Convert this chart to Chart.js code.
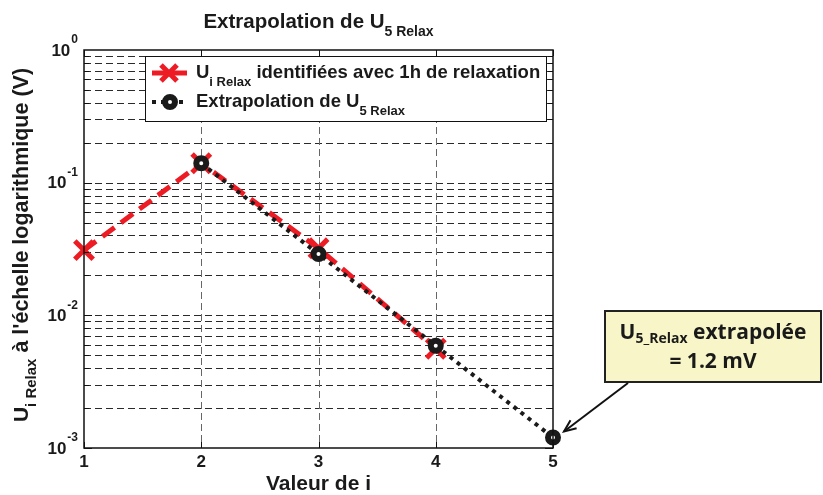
<!DOCTYPE html>
<html>
<head>
<meta charset="utf-8">
<script src="https://cdn.jsdelivr.net/npm/chart.js@4.4.1/dist/chart.umd.min.js"></script>
<style>
  html, body { margin: 0; padding: 0; background: #fff; }
  #wrap { width: 823px; height: 495px; }
</style>
</head>
<body>
<div id="wrap"><canvas id="c" width="823" height="495"></canvas></div>
<script>
// values
const xTicks = [1, 2, 3, 4, 5]
const yDecades = [-3, -2, -1, 0]
const relaxX = [1, 2, 3, 4]
const relaxU = [0.031, 0.14, 0.032, 0.0056]
const extraX = [2, 3, 4, 5]
const extraU = [0.14, 0.029, 0.0059, 0.0012]
const annotText = ['extrapolée', '= 1.2 mV']

const RED = '#ed1c24'
const BLK = '#1a1a1a'
const FONT = '"Liberation Sans", Arial, sans-serif'

// draw a run of text pieces: [text, size, dy]
function rich(ctx, parts, x, y, align, family) {
  let w = 0
  parts.forEach(p => {
    ctx.font = 'bold ' + p[1] + 'px ' + (family || FONT)
    w += ctx.measureText(p[0]).width
  })
  let cx = align === 'center' ? x - w / 2 : (align === 'right' ? x - w : x)
  ctx.textAlign = 'left'
  ctx.textBaseline = 'middle'
  parts.forEach(p => {
    ctx.font = 'bold ' + p[1] + 'px ' + (family || FONT)
    ctx.fillText(p[0], cx, y + (p[2] || 0))
    cx += ctx.measureText(p[0]).width
  })
  return w
}

const matlabAxes = {
  id: 'matlabAxes',
  beforeDraw(chart) {
    const ctx = chart.ctx
    ctx.save()
    ctx.fillStyle = '#fff'
    ctx.fillRect(0, 0, chart.width, chart.height)
    ctx.restore()
  },
  beforeDatasetsDraw(chart) {
    const { ctx, chartArea: a, scales } = chart
    const xs = scales.x, ys = scales.y
    ctx.save()
    ctx.lineWidth = 1
    ctx.setLineDash([7, 4])
    // horizontal grid, every 1..9 x 10^k
    ctx.strokeStyle = '#2a2a2a'
    for (let d = yDecades[0]; d < yDecades[yDecades.length - 1]; d++) {
      for (let m = 1; m <= 9; m++) {
        if (d === yDecades[0] && m === 1) continue
        const y = Math.round(ys.getPixelForValue(m * Math.pow(10, d))) + 0.5
        ctx.beginPath(); ctx.moveTo(a.left, y); ctx.lineTo(a.right, y); ctx.stroke()
      }
    }
    // vertical grid
    ctx.strokeStyle = '#666'
    xTicks.slice(1, -1).forEach(v => {
      const x = Math.round(xs.getPixelForValue(v)) + 0.5
      ctx.beginPath(); ctx.moveTo(x, a.top); ctx.lineTo(x, a.bottom); ctx.stroke()
    })
    ctx.restore()
  },
  afterDatasetsDraw(chart) {
    const { ctx, chartArea: a, scales } = chart
    const xs = scales.x, ys = scales.y
    ctx.save()
    ctx.setLineDash([])
    ctx.strokeStyle = '#111'
    ctx.lineWidth = 1.5
    ctx.strokeRect(a.left, a.top, a.right - a.left, a.bottom - a.top)

    // inner tick marks
    ctx.lineWidth = 1
    for (let d = yDecades[0]; d < yDecades[yDecades.length - 1]; d++) {
      for (let m = 1; m <= 9; m++) {
        const y = Math.round(ys.getPixelForValue(m * Math.pow(10, d))) + 0.5
        const len = m === 1 ? 8 : 5
        ctx.beginPath()
        ctx.moveTo(a.left, y); ctx.lineTo(a.left + len, y)
        ctx.moveTo(a.right, y); ctx.lineTo(a.right - len, y)
        ctx.stroke()
      }
    }
    xTicks.forEach(v => {
      const x = Math.round(xs.getPixelForValue(v)) + 0.5
      ctx.beginPath()
      ctx.moveTo(x, a.bottom); ctx.lineTo(x, a.bottom - 6)
      ctx.moveTo(x, a.top); ctx.lineTo(x, a.top + 6)
      ctx.stroke()
    })

    ctx.fillStyle = '#1a1a1a'
    // y tick labels 10^k
    yDecades.forEach(d => {
      const y = ys.getPixelForValue(Math.pow(10, d))
      const sup = String(d)
      ctx.textBaseline = 'middle'
      ctx.font = 'bold 12px ' + FONT
      const sw = ctx.measureText(sup).width
      ctx.textAlign = 'left'
      ctx.fillText(sup, a.left - 6 - sw, y - 10)
      ctx.font = 'bold 17px ' + FONT
      ctx.textAlign = 'right'
      ctx.fillText('10', a.left - 7 - sw, y + 1)
    })
    // x tick labels
    ctx.font = 'bold 17px ' + FONT
    ctx.textAlign = 'center'
    ctx.textBaseline = 'middle'
    xTicks.forEach(v => ctx.fillText(String(v), xs.getPixelForValue(v), a.bottom + 14))

    // axis titles
    ctx.font = 'bold 21px ' + FONT
    ctx.fillText('Valeur de i', (a.left + a.right) / 2, a.bottom + 36)
    ctx.save()
    ctx.translate(22, (a.top + a.bottom) / 2 - 4)
    ctx.rotate(-Math.PI / 2)
    rich(ctx, [['U', 21, 0], ['i Relax', 15, 10], [' à l\'échelle logarithmique (V)', 21.5, 0]], 0, 0, 'center')
    ctx.restore()

    // title
    rich(ctx, [['Extrapolation de U', 20.5, 0], ['5 Relax', 14, 10]], (a.left + a.right) / 2, 22, 'center')

    // legend
    const lx = 145, ly = 56, lw = 401, lh = 65
    ctx.fillStyle = '#fff'
    ctx.fillRect(lx, ly, lw, lh)
    ctx.strokeStyle = '#111'
    ctx.lineWidth = 1
    ctx.strokeRect(lx + 0.5, ly + 0.5, lw, lh)
    const r1 = ly + 17, r2 = ly + 46
    ctx.strokeStyle = RED
    ctx.lineWidth = 5
    ctx.beginPath(); ctx.moveTo(152, r1); ctx.lineTo(187, r1); ctx.stroke()
    ctx.lineWidth = 5
    ctx.beginPath()
    ctx.moveTo(161, r1 - 8); ctx.lineTo(177, r1 + 8)
    ctx.moveTo(177, r1 - 8); ctx.lineTo(161, r1 + 8)
    ctx.stroke()
    ctx.strokeStyle = BLK
    ctx.lineWidth = 4
    ctx.setLineDash([4, 5])
    ctx.beginPath(); ctx.moveTo(152, r2); ctx.lineTo(188, r2); ctx.stroke()
    ctx.setLineDash([])
    ctx.lineWidth = 6
    ctx.fillStyle = '#fff'
    ctx.beginPath(); ctx.arc(170, r2, 5, 0, Math.PI * 2); ctx.fill(); ctx.stroke()
    ctx.fillStyle = '#1a1a1a'
    rich(ctx, [['U', 18.5, 0], ['i Relax', 13, 9], [' identifiées avec 1h de relaxation', 18.5, 0]], 196, r1, 'left')
    rich(ctx, [['Extrapolation de U', 18.5, 0], ['5 Relax', 13, 9]], 196, r2, 'left')

    // annotation box + arrow to the last extrapolated point
    const bx = 605, by = 311, bw = 216, bh = 71
    ctx.fillStyle = '#f8f6c8'
    ctx.fillRect(bx, by, bw, bh)
    ctx.strokeStyle = '#222'
    ctx.lineWidth = 2
    ctx.strokeRect(bx, by, bw, bh)
    ctx.fillStyle = '#1a1a1a'
    const AF = '"Open Sans", sans-serif'
    rich(ctx, [['U', 21, 0], ['5_Relax', 14, 6], [' ' + annotText[0], 21, 0]], bx + bw / 2, by + 22, 'center', AF)
    rich(ctx, [[annotText[1], 21, 0]], bx + bw / 2, by + 51, 'center', AF)

    const last = extraX.length - 1
    const px = xs.getPixelForValue(extraX[last]) + 11
    const py = ys.getPixelForValue(extraU[last]) - 6
    const sx = 628, sy = 383
    const ang = Math.atan2(py - sy, px - sx)
    ctx.strokeStyle = '#111'
    ctx.lineWidth = 2
    ctx.beginPath(); ctx.moveTo(sx, sy); ctx.lineTo(px, py); ctx.stroke()
    ctx.beginPath()
    ctx.moveTo(px - 13 * Math.cos(ang - 0.4), py - 13 * Math.sin(ang - 0.4))
    ctx.lineTo(px, py)
    ctx.lineTo(px - 13 * Math.cos(ang + 0.4), py - 13 * Math.sin(ang + 0.4))
    ctx.stroke()
    ctx.restore()
  }
}

const ctx = document.getElementById('c').getContext('2d')
new Chart(ctx, {
  type: 'line',
  data: {
    datasets: [{
      label: 'Ui Relax identifiées avec 1h de relaxation',
      data: relaxX.map((x, i) => ({ x: x, y: relaxU[i] })),
      borderColor: RED,
      borderWidth: 5,
      borderDash: [15, 8],
      pointStyle: 'crossRot',
      pointRadius: 13,
      pointBorderWidth: 5,
      pointBorderColor: RED,
      pointBackgroundColor: RED,
      tension: 0,
      clip: false,
      order: 2,
    }, {
      label: 'Extrapolation de U5 Relax',
      data: extraX.map((x, i) => ({ x: x, y: extraU[i] })),
      borderColor: BLK,
      borderWidth: 4,
      borderDash: [4, 5],
      pointStyle: 'circle',
      pointRadius: 5,
      pointBorderWidth: 6,
      pointBorderColor: BLK,
      pointBackgroundColor: '#fff',
      tension: 0,
      clip: false,
      order: 1,
    }]
  },
  options: {
    responsive: false,
    animation: false,
    layout: { padding: { left: 84, right: 270, top: 50, bottom: 47 } },
    scales: {
      x: { type: 'linear', min: 1, max: 5, display: false },
      y: { type: 'logarithmic', min: 0.001, max: 1, display: false }
    },
    plugins: {
      legend: { display: false },
      tooltip: { enabled: false },
      title: { display: false }
    }
  },
  plugins: [matlabAxes]
})
</script>
</body>
</html>
